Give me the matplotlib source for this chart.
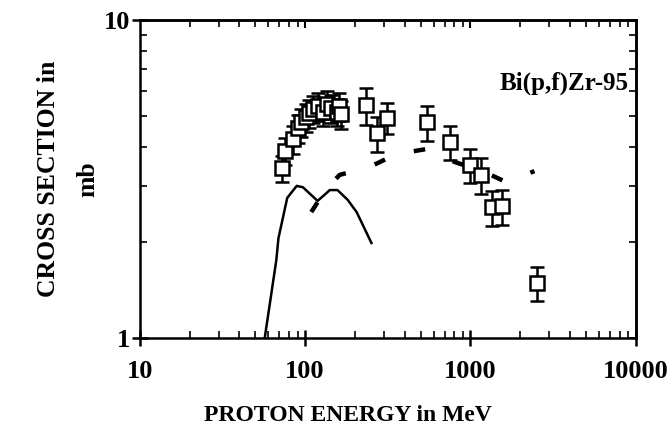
import matplotlib
matplotlib.use("Agg")
import matplotlib.pyplot as plt
from matplotlib.ticker import LogLocator, NullFormatter, FixedLocator, FixedFormatter

plt.rcParams['font.family'] = ['Liberation Serif', 'DejaVu Serif']
plt.rcParams['font.weight'] = 'bold'

# experimental points (MeV, mb, error in mb)
energy = [73, 76, 84, 90, 95, 101, 106, 112, 119, 128, 135, 143, 155, 161, 166,
          232, 274, 315, 550, 750, 990, 1165, 1360, 1560, 2540]
xsec = [3.42, 3.87, 4.22, 4.58, 4.78, 4.95, 5.10, 5.25, 5.37, 5.14, 5.44, 5.29,
        5.14, 5.37, 5.06, 5.40, 4.41, 4.92, 4.78, 4.13, 3.50, 3.26, 2.58, 2.60, 1.49]
xsec_err = [0.33, 0.38, 0.42, 0.46, 0.48, 0.50, 0.51, 0.52, 0.54, 0.51, 0.54, 0.53,
            0.51, 0.54, 0.51, 0.72, 0.55, 0.55, 0.60, 0.50, 0.43, 0.42, 0.33, 0.33, 0.18]

# solid calculation
calc1_e = [57, 67, 69, 78, 89, 97, 119, 131, 141, 157, 181, 205, 252]
calc1_s = [1.00, 1.76, 2.06, 2.76, 3.01, 2.98, 2.70, 2.82, 2.92, 2.92, 2.72, 2.49, 1.99]

# dashed calculation
calc2_e = [109, 135, 162, 245, 357, 542, 800, 1216, 1652, 2440]
calc2_s = [2.49, 2.96, 3.26, 3.45, 3.79, 3.93, 3.58, 3.33, 3.09, 3.35]

fig = plt.figure(figsize=(6.72, 4.37), dpi=100)
ax = fig.add_axes([0.208, 0.2265, 0.738, 0.7275])

ax.plot(calc1_e, calc1_s, color='black', lw=1.8, zorder=2)
ax.plot(calc2_e, calc2_s, color='black', lw=3.2, dashes=(2.6, 6.8), zorder=2)
ax.errorbar(energy, xsec, yerr=xsec_err, fmt='s', ms=9.5, mfc='white', mec='black',
            mew=1.8, ecolor='black', elinewidth=1.8, capsize=5, capthick=1.8, zorder=3)

ax.set_xscale('log')
ax.set_yscale('log')
ax.set_xlim(10, 10000)
ax.set_ylim(1, 10)

for s in ax.spines.values():
    s.set_linewidth(1.8)

ax.xaxis.set_major_locator(FixedLocator([10, 100, 1000, 10000]))
ax.xaxis.set_major_formatter(FixedFormatter(['10', '100', '1000', '10000']))
ax.xaxis.set_minor_locator(LogLocator(base=10, subs=range(2, 10)))
ax.xaxis.set_minor_formatter(NullFormatter())
ax.yaxis.set_major_locator(FixedLocator([1, 10]))
ax.yaxis.set_major_formatter(FixedFormatter(['1', '10']))
ax.yaxis.set_minor_locator(LogLocator(base=10, subs=range(2, 10)))
ax.yaxis.set_minor_formatter(NullFormatter())

ax.tick_params(which='major', direction='inout', length=12, width=1.8,
               labelsize=19, pad=10)
ax.tick_params(which='minor', direction='in', length=5, width=1.2)
ax.tick_params(axis='y', which='major', pad=1)

top = ax.secondary_xaxis('top')
top.xaxis.set_major_locator(FixedLocator([100, 1000]))
top.xaxis.set_minor_locator(LogLocator(base=10, subs=range(2, 10)))
top.tick_params(which='major', direction='in', length=6, width=1.5, labeltop=False)
top.tick_params(which='minor', direction='in', length=5, width=1.2, labeltop=False)
top.spines['top'].set_linewidth(1.8)

right = ax.secondary_yaxis('right')
right.yaxis.set_major_locator(FixedLocator([1, 10]))
right.yaxis.set_minor_locator(LogLocator(base=10, subs=range(2, 10)))
right.tick_params(which='both', direction='in', length=5, width=1.2, labelright=False)
right.spines['right'].set_linewidth(1.8)

ax.set_xlabel('PROTON ENERGY in MeV', fontsize=17, fontweight='bold', labelpad=16,
              x=0.42)
ax.set_ylabel('CROSS SECTION in\nmb', fontsize=18.5, fontweight='bold', labelpad=3,
              linespacing=1.9)

ax.text(0.985, 0.80, 'Bi(p,f)Zr-95', transform=ax.transAxes, ha='right', va='center',
        fontsize=18, fontweight='bold')

fig.savefig('out.png', dpi=100)
